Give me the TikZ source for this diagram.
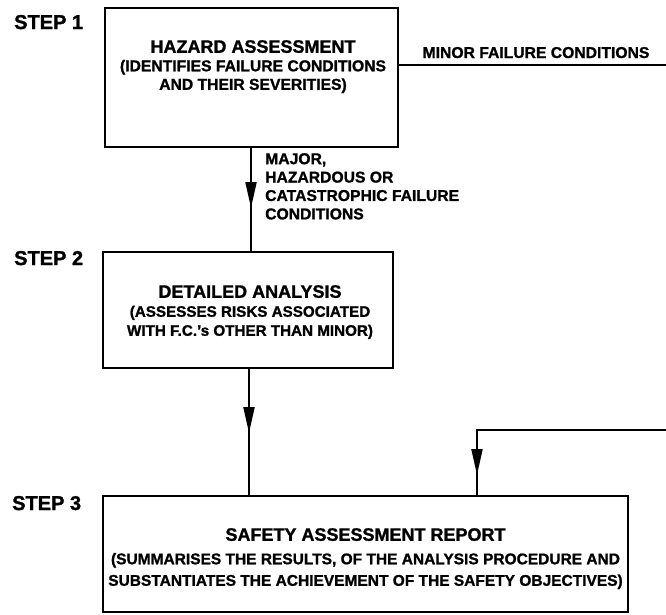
\documentclass[tikz,border=0pt]{standalone}
\usepackage{fontspec}
\setmainfont{Liberation Sans}[BoldFeatures={FakeBold=1.2}]
\usetikzlibrary{arrows.meta}
\begin{document}
\begin{tikzpicture}[x=1pt,y=-1pt,
  box/.style={draw, line width=2pt, inner sep=0pt},
  conn/.style={line width=2pt},
  arr/.style={conn, -{Triangle[length=26pt,width=11pt]}},
  steplabel/.style={font=\fontsize{20}{22}\selectfont\bfseries, anchor=base west, inner sep=0pt},
  boxtext/.style={font=\fontsize{15}{19}\selectfont\bfseries, align=center, anchor=north, inner sep=0pt},
  note/.style={font=\fontsize{15.7}{18.4}\selectfont\bfseries, inner sep=0pt}
]
\useasboundingbox (0,0) rectangle (666,614);

% step labels
\node[steplabel] (s1) at (14,29) {STEP 1};
\node[steplabel] (s2) at (14,265) {STEP 2};
\node[steplabel] (s3) at (12,510) {STEP 3};

% boxes
\node[box, minimum width=293pt, minimum height=139pt] (b1) at (251.5,77.5) {};
\node[box, minimum width=290pt, minimum height=116pt] (b2) at (248,310) {};
\node[box, minimum width=525pt, minimum height=116pt] (b3) at (365.5,554) {};

% box texts
\node[boxtext, font=\fontsize{15.7}{18.5}\selectfont\bfseries] (t1) at (253,40) {{\fontsize{18}{20}\selectfont HAZARD ASSESSMENT}\\[0pt]
  (IDENTIFIES FAILURE CONDITIONS\\ AND THEIR SEVERITIES)};
\node[boxtext, font=\fontsize{15.2}{19}\selectfont\bfseries] (t2) at (250,285) {{\fontsize{18}{20}\selectfont DETAILED ANALYSIS}\\[0pt]
  (ASSESSES RISKS ASSOCIATED\\ WITH F.C.'s OTHER THAN MINOR)};
\node[boxtext, font=\fontsize{15.5}{21.5}\selectfont\bfseries] (t3) at (365.5,528) {{\fontsize{18}{20}\selectfont SAFETY ASSESSMENT REPORT}\\[2pt]
  (SUMMARISES THE RESULTS, OF THE ANALYSIS PROCEDURE AND\\ SUBSTANTIATES THE ACHIEVEMENT OF THE SAFETY OBJECTIVES)};

% connector labels
\node[note, anchor=base] (lminor) at (536,58) {MINOR FAILURE CONDITIONS};
\node[note, anchor=north west, align=left] (lmajor) at (265,153) {MAJOR,\\ HAZARDOUS OR\\ CATASTROPHIC FAILURE\\ CONDITIONS};

% connectors
\coordinate (mout) at (666,65);
\draw[conn] (b1.east |- mout) -- (mout);

\coordinate (tip1) at (251,208);
\draw[conn] (tip1 |- b1.south) -- (tip1 |- b2.north);
\draw[arr] (tip1 |- b1.south) -- (tip1);

\coordinate (tip2) at (249,433);
\draw[conn] (tip2 |- b2.south) -- (tip2 |- b3.north);
\draw[arr] (tip2 |- b2.south) -- (tip2);

\coordinate (fbin) at (666,430);
\coordinate (fbc) at (477,430);
\coordinate (tip3) at (477,475);
\draw[conn] (fbin) -- (fbc) -- (fbc |- b3.north);
\draw[arr] (fbc) -- (tip3);
\end{tikzpicture}
\end{document}
